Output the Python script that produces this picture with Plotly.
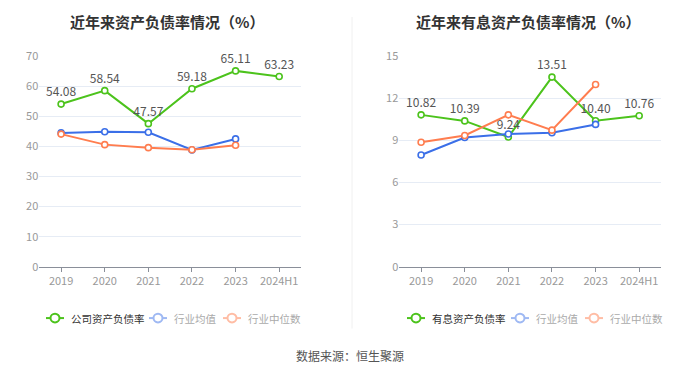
import plotly.graph_objects as go

years = ["2019", "2020", "2021", "2022", "2023", "2024H1"]
ind_years = ["2019", "2020", "2021", "2022", "2023"]

debt_ratio = [54.08, 58.54, 47.57, 59.18, 65.11, 63.23]
debt_avg = [44.5, 44.9, 44.7, 38.8, 42.5]
debt_median = [44.1, 40.6, 39.6, 38.9, 40.4]

int_ratio = [10.82, 10.39, 9.24, 13.51, 10.40, 10.76]
int_avg = [7.96, 9.21, 9.46, 9.55, 10.14]
int_median = [8.87, 9.35, 10.82, 9.73, 12.98]

legend_left = ["公司资产负债率", "行业均值", "行业中位数"]
legend_right = ["有息资产负债率", "行业均值", "行业中位数"]

GREEN = "#4cc31c"
BLUE = "#3b6fe8"
ORANGE = "#ff7d4f"
BLUE_F = "#9fb9f3"
ORANGE_F = "#ffbda5"
FONT = "Noto Sans CJK SC"

# the page body has an 8px margin; size the figure so the page is exactly 700x378
OFF = 8
W, H = 700 - 2 * OFF, 378 - 2 * OFF


def px(x):
    return (x - OFF) / W


def py(y):
    return 1 - (y - OFF) / H


fig = go.Figure()


def add_series(x, y, color, xa, ya, labels=False):
    fig.add_trace(go.Scatter(
        x=x, y=y, xaxis=xa, yaxis=ya,
        mode="lines+markers+text" if labels else "lines+markers",
        text=[f"{v:.2f}" for v in y] if labels else None,
        textposition="top center",
        textfont=dict(size=12, color="#555555", family=FONT),
        line=dict(color=color, width=2),
        marker=dict(symbol="circle", size=6, color="white", line=dict(color=color, width=1.6)),
        showlegend=False, hoverinfo="skip", cliponaxis=False,
    ))


add_series(years, debt_ratio, GREEN, "x", "y", labels=True)
add_series(ind_years, debt_avg, BLUE, "x", "y")
add_series(ind_years, debt_median, ORANGE, "x", "y")
add_series(years, int_ratio, GREEN, "x2", "y2", labels=True)
add_series(ind_years, int_avg, BLUE, "x2", "y2")
add_series(ind_years, int_median, ORANGE, "x2", "y2")

xcommon = dict(type="category", categoryorder="array", categoryarray=years,
               range=[-0.5, 5.5], showgrid=False, showline=True, linecolor="#8a8f99",
               linewidth=1, ticks="outside", ticklen=4, tickcolor="#8a8f99",
               tickfont=dict(size=11, color="#999999", family=FONT), fixedrange=True)
ycommon = dict(showgrid=True, gridcolor="#e6ecf5", gridwidth=1, zeroline=False,
               showline=False, tickfont=dict(size=11, color="#999999", family=FONT),
               ticks="", fixedrange=True)

shapes = [dict(type="line", xref="paper", yref="paper", x0=px(352), x1=px(352), y0=1, y1=py(334),
               line=dict(color="#f0f0f0", width=1))]
annotations = [
    dict(text="<b>近年来资产负债率情况（%）</b>", xref="paper", yref="paper", x=px(167), y=py(13),
         xanchor="center", yanchor="middle", showarrow=False,
         font=dict(size=15, color="#333333", family=FONT)),
    dict(text="<b>近年来有息资产负债率情况（%）</b>", xref="paper", yref="paper", x=px(528), y=py(13),
         xanchor="center", yanchor="middle", showarrow=False,
         font=dict(size=15, color="#333333", family=FONT)),
    dict(text="数据来源：恒生聚源", xref="paper", yref="paper", x=px(350), y=py(362),
         xanchor="center", yanchor="middle", showarrow=False,
         font=dict(size=12, color="#555555", family=FONT)),
]

LY = 323


def legend_item(cx, color, label, text_color):
    shapes.append(dict(type="line", xref="paper", yref="paper", x0=px(cx - 9), x1=px(cx + 9),
                       y0=py(LY), y1=py(LY), line=dict(color=color, width=2)))
    shapes.append(dict(type="circle", xref="paper", yref="paper", x0=px(cx - 4.5), x1=px(cx + 4.5),
                       y0=py(LY + 4.5), y1=py(LY - 4.5), fillcolor="white",
                       line=dict(color=color, width=2)))
    annotations.append(dict(text=label, xref="paper", yref="paper", x=px(cx + 14), y=py(LY),
                            xanchor="left", yanchor="middle", showarrow=False,
                            font=dict(size=10.5, color=text_color, family=FONT)))


for cx, color, label, tc in zip([55, 158, 232], [GREEN, BLUE_F, ORANGE_F], legend_left,
                                ["#333333", "#aaaaaa", "#aaaaaa"]):
    legend_item(cx, color, label, tc)
for cx, color, label, tc in zip([416, 520, 594], [GREEN, BLUE_F, ORANGE_F], legend_right,
                                ["#333333", "#aaaaaa", "#aaaaaa"]):
    legend_item(cx, color, label, tc)

fig.update_layout(
    width=W, height=H, autosize=False,
    margin=dict(l=0, r=0, t=0, b=0),
    paper_bgcolor="white", plot_bgcolor="white",
    font=dict(family=FONT),
    showlegend=False,
    xaxis=dict(domain=[px(39.3), px(301)], anchor="y", **xcommon),
    yaxis=dict(domain=[py(269.3), py(49)], anchor="x", range=[0, 70],
               tickvals=[0, 10, 20, 30, 40, 50, 60, 70], **ycommon),
    xaxis2=dict(domain=[px(399.3), px(661)], anchor="y2", **xcommon),
    yaxis2=dict(domain=[py(269.3), py(49)], anchor="x2", range=[0, 15],
                tickvals=[0, 3, 6, 9, 12, 15], **ycommon),
    shapes=shapes,
    annotations=annotations,
)

fig.write_html("out.html", config={"displayModeBar": False})
